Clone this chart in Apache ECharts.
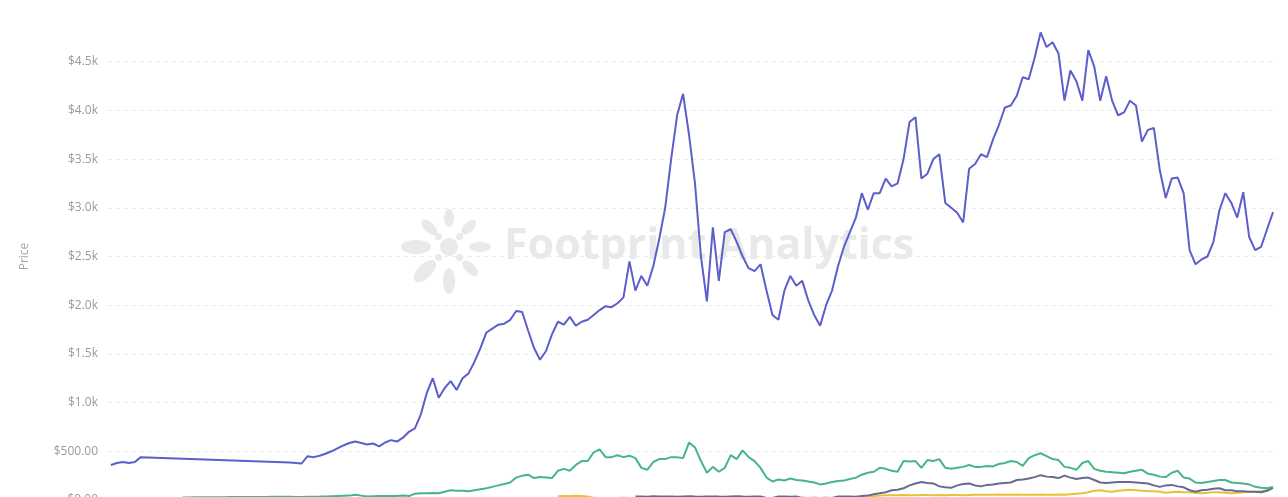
<!DOCTYPE html>
<html>
<head>
<meta charset="utf-8">
<script src="https://cdn.jsdelivr.net/npm/echarts@6/dist/echarts.min.js"></script>
<style>
html,body{margin:0;padding:0;overflow:hidden;background:#fff;}
#chart{width:1288px;height:540px;}
</style>
</head>
<body>
<div id="chart"></div>
<script>
// x domain: one observation every 3 days starting at this date
const startDate = '2020-07-27';
const stepDays = 3;
const yTicks = [0, 500, 1000, 1500, 2000, 2500, 3000, 3500, 4000, 4500];

const seriesNames = ['ETH', 'Green token', 'Grey token', 'Yellow token'];

const ethPrice = [
360,380,390,380,390,440,null,null,null,null,
null,null,null,null,null,null,null,null,null,null,
null,null,null,null,null,null,null,null,null,null,
385,380,375,450,440,455,475,500,530,560,
585,600,585,570,580,550,590,615,600,640,
700,735,880,1100,1250,1050,1150,1220,1130,1250,
1300,1420,1560,1720,1760,1800,1810,1850,1940,1930,
1740,1560,1440,1530,1700,1830,1800,1880,1790,1830,
1850,1900,1950,1990,1980,2020,2080,2450,2150,2300,
2200,2400,2680,3000,3500,3950,4170,3750,3250,2500,
2040,2800,2250,2750,2780,2650,2500,2380,2350,2420,
2150,1900,1850,2150,2300,2200,2250,2050,1900,1790,
2000,2150,2400,2600,2750,2900,3150,2980,3150,3150,
3300,3220,3250,3500,3880,3930,3300,3350,3500,3550,
3050,3000,2950,2850,3400,3450,3550,3520,3700,3850,
4030,4050,4150,4340,4320,4540,4800,4650,4700,4585,
4100,4410,4300,4100,4620,4450,4100,4350,4100,3950,
3980,4100,4050,3680,3800,3820,3385,3100,3300,3310,
3150,2565,2420,2470,2500,2650,2975,3150,3050,2900,
3160,2700,2565,2600,2780,2955
];

const greenPrice = [
null,null,null,null,null,null,null,null,null,null,
null,null,25,26,27,27,28,28,29,29,
30,30,30,31,31,32,32,33,33,34,
34,30,32,33,34,35,37,39,41,43,
45,55,45,35,38,40,40,42,40,45,
40,65,70,70,72,70,85,100,95,95,
90,100,110,120,135,150,165,180,230,250,
260,225,235,230,225,300,320,300,360,400,
400,490,520,440,440,460,440,455,430,330,
310,390,420,420,440,440,430,590,540,400,
280,340,290,330,460,420,510,440,400,330,
230,190,210,200,220,205,200,190,180,160,
170,185,195,200,215,230,260,280,290,330,
320,300,290,400,395,400,330,410,400,420,
330,320,330,340,360,340,340,350,345,370,
380,400,390,350,430,460,480,450,420,410,
340,330,310,380,400,320,300,290,285,280,
275,290,300,310,270,260,240,235,280,300,
230,220,180,175,185,195,205,205,180,175,
170,160,135,125,120,135
];

const greyPrice = [
null,null,null,null,null,null,null,null,null,null,
null,null,null,null,null,null,null,null,null,null,
null,null,null,null,null,null,null,null,null,null,
null,null,null,null,null,null,null,null,null,null,
null,null,null,null,null,null,null,null,null,null,
null,null,null,null,null,null,null,null,null,null,
null,null,null,null,null,null,null,null,null,null,
null,null,null,null,null,null,null,null,null,null,
null,null,null,null,null,null,null,null,35,36,
34,38,36,35,37,34,36,38,35,33,
36,37,35,34,36,38,35,34,36,35,
20,20,35,36,34,35,22,21,22,20,
22,21,35,36,35,34,40,45,60,70,
80,100,105,120,150,170,185,175,170,140,
130,125,150,165,170,150,140,155,160,170,
175,180,205,210,220,235,255,240,235,225,
250,230,215,225,230,205,180,175,180,185,
185,185,180,175,170,150,135,150,155,140,
130,100,85,100,105,115,120,100,100,90,
90,85,85,80,95,125
];

const yellowPrice = [
null,null,null,null,null,null,null,null,null,null,
null,null,null,null,null,null,null,null,null,null,
null,null,null,null,null,null,null,null,null,null,
null,null,null,null,null,null,null,null,null,null,
null,null,null,null,null,null,null,null,null,null,
null,null,null,null,null,null,null,null,null,null,
null,null,null,null,null,null,null,null,null,null,
null,null,null,null,null,38,40,42,44,40,
36,22,20,21,19,20,22,21,20,19,
18,20,21,22,20,19,21,22,20,18,
17,18,19,20,18,17,19,20,18,17,
16,15,16,17,18,17,16,17,18,19,
20,19,20,21,22,22,25,30,38,45,
48,50,50,52,50,49,51,52,50,51,
50,52,51,50,52,54,55,54,55,56,
55,54,56,55,54,55,56,55,54,56,
55,60,65,70,80,95,100,90,85,95,
100,105,100,95,90,90,85,75,80,85,
80,80,75,70,75,80,80,75,70,75,
80,85,85,90,100,130
];

const colors = ['#5B5ECB', '#47B58C', '#686A93', '#E5C23A'];

// ---- build
const DAY = 86400000;
const t0 = Date.parse(startDate + 'T00:00:00Z');
function toPairs(arr) {
  return arr.map((v, i) => [t0 + i * stepDays * DAY, v]);
}
const tEnd = t0 + (ethPrice.length - 1) * stepDays * DAY;

function fmt(v) {
  if (v >= 1000) return '$' + (v / 1000).toFixed(1) + 'k';
  return '$' + v.toFixed(2);
}

const chart = echarts.init(document.getElementById('chart'), null, {renderer: 'canvas'});

// watermark logo (petals around a center)
const logoCx = 449, logoCy = 247, wm = '#e9e9e9';
const petals = [
  {a: 180, d: 33, rx: 15, ry: 7},
  {a: 135, d: 34, rx: 14, ry: 7},
  {a: 90,  d: 34, rx: 13, ry: 6},
  {a: 225, d: 28, rx: 10, ry: 5},
  {a: 270, d: 29, rx: 9,  ry: 5},
  {a: 315, d: 28, rx: 9,  ry: 5},
  {a: 0,   d: 31, rx: 11, ry: 5},
  {a: 45,  d: 30, rx: 10, ry: 5}
];
const logoChildren = petals.map(p => {
  const r = p.a * Math.PI / 180;
  return {
    type: 'ellipse',
    x: logoCx + p.d * Math.cos(r),
    y: logoCy + p.d * Math.sin(r),
    rotation: -r,
    shape: {cx: 0, cy: 0, rx: p.rx, ry: p.ry},
    style: {fill: wm}
  };
});
[45, 135, 225, 315].forEach(a => {
  const r = a * Math.PI / 180;
  logoChildren.push({type: 'circle', shape: {cx: logoCx + 15 * Math.cos(r), cy: logoCy + 15 * Math.sin(r), r: 3.5}, style: {fill: wm}});
});
logoChildren.push({type: 'circle', shape: {cx: logoCx, cy: logoCy, r: 9}, style: {fill: wm}});

chart.setOption({
  animation: false,
  color: colors,
  grid: {left: 108, right: 10, top: 13, bottom: 40, containLabel: false},
  graphic: [
    {type: 'group', silent: true, z: 0, children: logoChildren},
    {type: 'text', silent: true, z: 0, x: 504, y: 247,
     style: {text: 'Footprint Analytics', font: 'bold 43px "Open Sans", sans-serif', fill: wm, textVerticalAlign: 'middle', verticalAlign: 'middle'}}
  ],
  xAxis: {
    type: 'time',
    min: t0 - 1.5 * DAY,
    max: tEnd + 2.5 * DAY,
    axisLine: {show: false},
    axisTick: {show: false},
    axisLabel: {show: false},
    splitLine: {show: false}
  },
  yAxis: {
    type: 'value',
    min: 0,
    max: 5000,
    interval: 500,
    name: 'Price',
    nameLocation: 'middle',
    nameGap: 77,
    nameTextStyle: {color: '#a6a6a6', fontSize: 12, fontFamily: 'Open Sans, sans-serif'},
    axisLine: {show: false},
    axisTick: {show: false},
    axisLabel: {
      color: '#9a9a9a', fontSize: 12, margin: 10, showMaxLabel: false,
      fontFamily: 'Open Sans, sans-serif',
      formatter: v => (yTicks.indexOf(v) >= 0 ? fmt(v) : '')
    },
    splitLine: {show: true, showMaxLine: false, lineStyle: {color: '#ececec', type: [4, 4], width: 1}}
  },
  series: [ethPrice, greenPrice, greyPrice, yellowPrice].map((arr, k) => ({
    name: seriesNames[k],
    type: 'line',
    data: toPairs(arr),
    showSymbol: false,
    symbol: 'none',
    connectNulls: k === 0,
    z: 10 - k,
    lineStyle: {width: 2, color: colors[k]}
  }))
});
</script>
</body>
</html>
